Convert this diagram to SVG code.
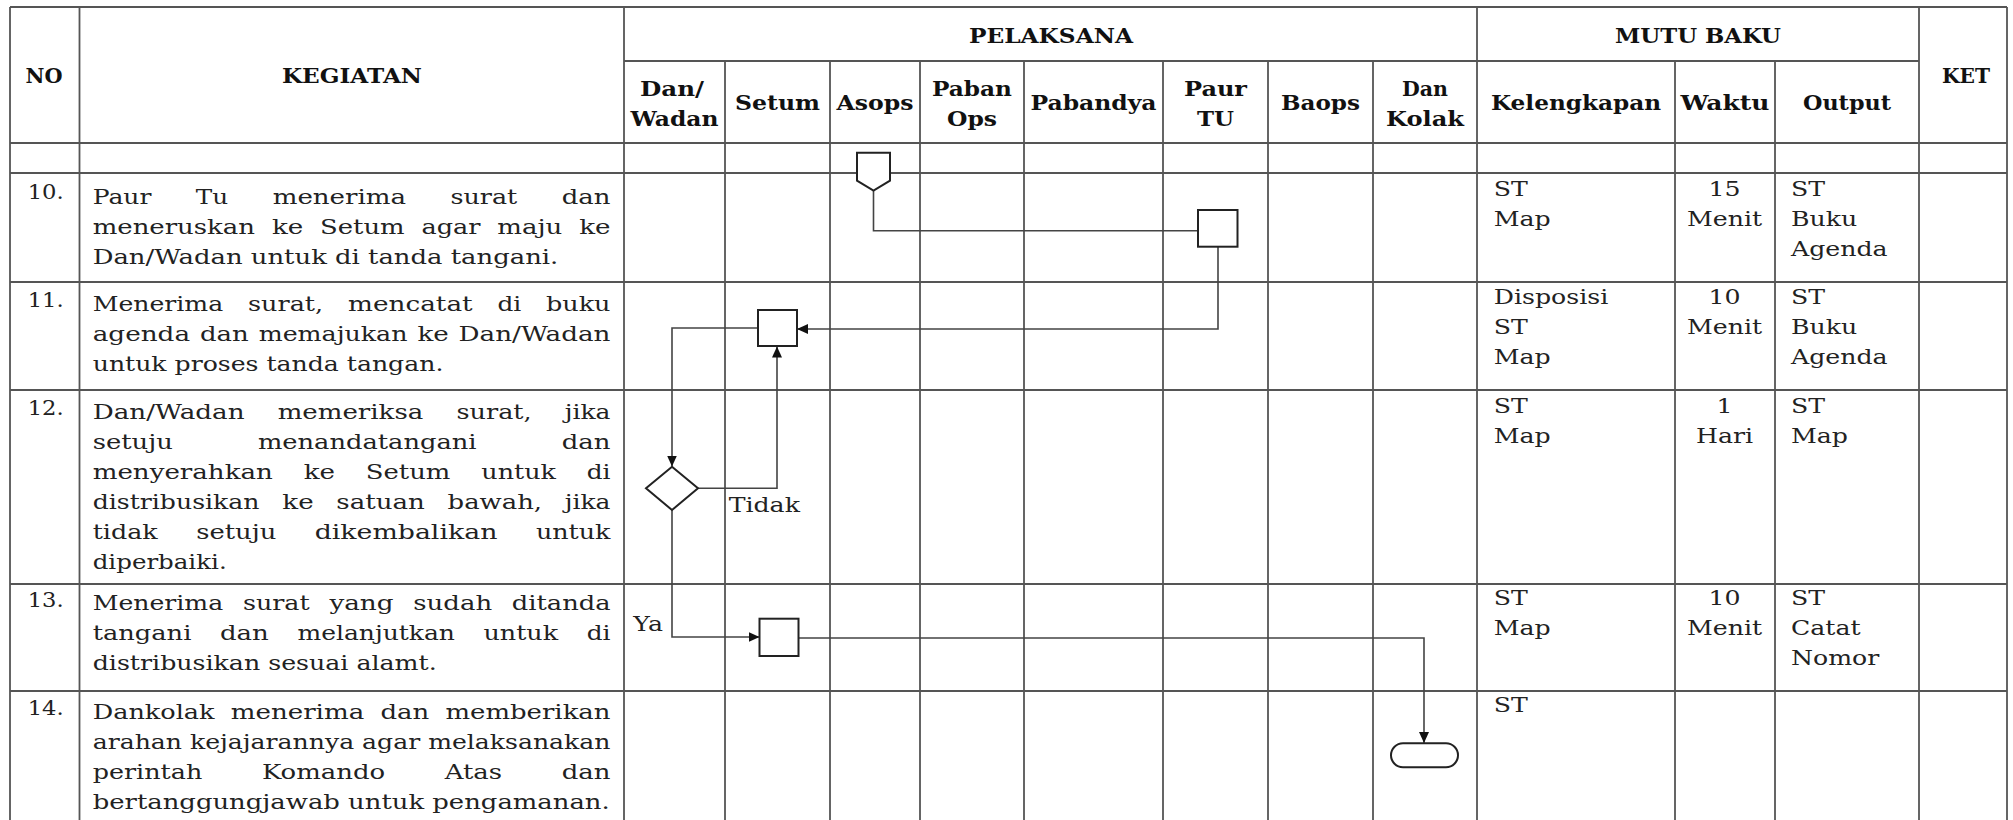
<svg xmlns="http://www.w3.org/2000/svg" width="2013" height="820" viewBox="0 0 2013 820">
<style>
.g{stroke:#555;stroke-width:1.8;fill:none}
.h{font-family:"DejaVu Serif",serif;font-weight:bold;font-size:20px;fill:#111;text-anchor:middle}
.b{font-family:"DejaVu Serif",serif;font-size:21px;fill:#222}
.m{text-anchor:middle}
.n{fill:#fff;stroke:#222;stroke-width:2}
.c{fill:none;stroke:#444;stroke-width:1.6}
</style>
<defs>
<marker id="arr" markerUnits="userSpaceOnUse" markerWidth="12" markerHeight="12" refX="11" refY="5" orient="auto">
<path d="M0,0 L11,5 L0,10 Z" fill="#111"/>
</marker>
</defs>
<rect width="2013" height="820" fill="#fff"/>
<g id="table" class="g">
<path d="M10,7V820M79.5,7V820M624,7V820M1477,7V820M1919,7V820M2007,7V820"/>
<path d="M725,61V820M830,61V820M920,61V820M1024,61V820M1163,61V820M1268,61V820M1373,61V820M1675,61V820M1775,61V820"/>
<path d="M10,7H2007M624,61H1919M10,143H2007M10,173H2007M10,282H2007M10,390H2007M10,584H2007M10,691H2007"/>
</g>
<g id="header">
<text class="h" x="44" y="83" textLength="37" lengthAdjust="spacingAndGlyphs">NO</text>
<text class="h" x="352" y="83" textLength="140" lengthAdjust="spacingAndGlyphs">KEGIATAN</text>
<text class="h" x="1051" y="43" textLength="164" lengthAdjust="spacingAndGlyphs">PELAKSANA</text>
<text class="h" x="1698" y="43" textLength="166" lengthAdjust="spacingAndGlyphs">MUTU BAKU</text>
<text class="h" x="1966" y="83" textLength="48" lengthAdjust="spacingAndGlyphs">KET</text>
<text class="h" x="672" y="96" textLength="64" lengthAdjust="spacingAndGlyphs">Dan/</text>
<text class="h" x="674.5" y="126" textLength="88" lengthAdjust="spacingAndGlyphs">Wadan</text>
<text class="h" x="777.5" y="110" textLength="85" lengthAdjust="spacingAndGlyphs">Setum</text>
<text class="h" x="875" y="110" textLength="77" lengthAdjust="spacingAndGlyphs">Asops</text>
<text class="h" x="972" y="96" textLength="80" lengthAdjust="spacingAndGlyphs">Paban</text>
<text class="h" x="972" y="126" textLength="50" lengthAdjust="spacingAndGlyphs">Ops</text>
<text class="h" x="1093.5" y="110" textLength="126" lengthAdjust="spacingAndGlyphs">Pabandya</text>
<text class="h" x="1215.5" y="96" textLength="63" lengthAdjust="spacingAndGlyphs">Paur</text>
<text class="h" x="1215.5" y="126" textLength="37" lengthAdjust="spacingAndGlyphs">TU</text>
<text class="h" x="1320.5" y="110" textLength="79" lengthAdjust="spacingAndGlyphs">Baops</text>
<text class="h" x="1425" y="96" textLength="46" lengthAdjust="spacingAndGlyphs">Dan</text>
<text class="h" x="1425" y="126" textLength="78" lengthAdjust="spacingAndGlyphs">Kolak</text>
<text class="h" x="1576" y="110" textLength="170" lengthAdjust="spacingAndGlyphs">Kelengkapan</text>
<text class="h" x="1725" y="110" textLength="89" lengthAdjust="spacingAndGlyphs">Waktu</text>
<text class="h" x="1847" y="110" textLength="88" lengthAdjust="spacingAndGlyphs">Output</text>
</g>
<g id="kegiatan">
<g id="row10">
<text class="b" x="27.7" y="199" textLength="36" lengthAdjust="spacingAndGlyphs">10.</text>
<text class="b" x="92.7" y="204" textLength="58.7" lengthAdjust="spacingAndGlyphs">Paur</text>
<text class="b" x="195.8" y="204" textLength="32.4" lengthAdjust="spacingAndGlyphs">Tu</text>
<text class="b" x="272.7" y="204" textLength="133.4" lengthAdjust="spacingAndGlyphs">menerima</text>
<text class="b" x="450.5" y="204" textLength="66.8" lengthAdjust="spacingAndGlyphs">surat</text>
<text class="b" x="561.7" y="204" textLength="48.8" lengthAdjust="spacingAndGlyphs">dan</text>
<text class="b" x="92.7" y="234" textLength="162.3" lengthAdjust="spacingAndGlyphs">meneruskan</text>
<text class="b" x="271.9" y="234" textLength="31.3" lengthAdjust="spacingAndGlyphs">ke</text>
<text class="b" x="320" y="234" textLength="84.6" lengthAdjust="spacingAndGlyphs">Setum</text>
<text class="b" x="421.5" y="234" textLength="59" lengthAdjust="spacingAndGlyphs">agar</text>
<text class="b" x="497.3" y="234" textLength="65" lengthAdjust="spacingAndGlyphs">maju</text>
<text class="b" x="579.2" y="234" textLength="31.3" lengthAdjust="spacingAndGlyphs">ke</text>
<text class="b" x="92.7" y="264" textLength="465.6" lengthAdjust="spacingAndGlyphs">Dan/Wadan untuk di tanda tangani.</text>
</g>
<g id="row11">
<text class="b" x="27.7" y="307" textLength="36" lengthAdjust="spacingAndGlyphs">11.</text>
<text class="b" x="92.7" y="311.3" textLength="130.5" lengthAdjust="spacingAndGlyphs">Menerima</text>
<text class="b" x="248" y="311.3" textLength="75.2" lengthAdjust="spacingAndGlyphs">surat,</text>
<text class="b" x="348.1" y="311.3" textLength="124.5" lengthAdjust="spacingAndGlyphs">mencatat</text>
<text class="b" x="497.4" y="311.3" textLength="23.8" lengthAdjust="spacingAndGlyphs">di</text>
<text class="b" x="546" y="311.3" textLength="64.5" lengthAdjust="spacingAndGlyphs">buku</text>
<text class="b" x="92.7" y="341.3" textLength="97.4" lengthAdjust="spacingAndGlyphs">agenda</text>
<text class="b" x="200" y="341.3" textLength="48.8" lengthAdjust="spacingAndGlyphs">dan</text>
<text class="b" x="258.7" y="341.3" textLength="148.8" lengthAdjust="spacingAndGlyphs">memajukan</text>
<text class="b" x="417.4" y="341.3" textLength="31.3" lengthAdjust="spacingAndGlyphs">ke</text>
<text class="b" x="458.6" y="341.3" textLength="151.9" lengthAdjust="spacingAndGlyphs">Dan/Wadan</text>
<text class="b" x="92.7" y="371.3" textLength="350.7" lengthAdjust="spacingAndGlyphs">untuk proses tanda tangan.</text>
</g>
<g id="row12">
<text class="b" x="27.7" y="415" textLength="36" lengthAdjust="spacingAndGlyphs">12.</text>
<text class="b" x="92.7" y="419" textLength="151.9" lengthAdjust="spacingAndGlyphs">Dan/Wadan</text>
<text class="b" x="277.7" y="419" textLength="145.6" lengthAdjust="spacingAndGlyphs">memeriksa</text>
<text class="b" x="456.5" y="419" textLength="75.2" lengthAdjust="spacingAndGlyphs">surat,</text>
<text class="b" x="564.8" y="419" textLength="45.7" lengthAdjust="spacingAndGlyphs">jika</text>
<text class="b" x="92.7" y="449" textLength="80.1" lengthAdjust="spacingAndGlyphs">setuju</text>
<text class="b" x="257.9" y="449" textLength="218.7" lengthAdjust="spacingAndGlyphs">menandatangani</text>
<text class="b" x="561.7" y="449" textLength="48.8" lengthAdjust="spacingAndGlyphs">dan</text>
<text class="b" x="92.7" y="479" textLength="180.1" lengthAdjust="spacingAndGlyphs">menyerahkan</text>
<text class="b" x="303.7" y="479" textLength="31.3" lengthAdjust="spacingAndGlyphs">ke</text>
<text class="b" x="365.8" y="479" textLength="84.6" lengthAdjust="spacingAndGlyphs">Setum</text>
<text class="b" x="481.3" y="479" textLength="74.6" lengthAdjust="spacingAndGlyphs">untuk</text>
<text class="b" x="586.7" y="479" textLength="23.8" lengthAdjust="spacingAndGlyphs">di</text>
<text class="b" x="92.7" y="509" textLength="166.8" lengthAdjust="spacingAndGlyphs">distribusikan</text>
<text class="b" x="282.3" y="509" textLength="31.3" lengthAdjust="spacingAndGlyphs">ke</text>
<text class="b" x="336.3" y="509" textLength="88.5" lengthAdjust="spacingAndGlyphs">satuan</text>
<text class="b" x="447.6" y="509" textLength="94.5" lengthAdjust="spacingAndGlyphs">bawah,</text>
<text class="b" x="564.8" y="509" textLength="45.7" lengthAdjust="spacingAndGlyphs">jika</text>
<text class="b" x="92.7" y="539" textLength="65" lengthAdjust="spacingAndGlyphs">tidak</text>
<text class="b" x="196.2" y="539" textLength="80.1" lengthAdjust="spacingAndGlyphs">setuju</text>
<text class="b" x="314.7" y="539" textLength="182.7" lengthAdjust="spacingAndGlyphs">dikembalikan</text>
<text class="b" x="535.9" y="539" textLength="74.6" lengthAdjust="spacingAndGlyphs">untuk</text>
<text class="b" x="92.7" y="569" textLength="134" lengthAdjust="spacingAndGlyphs">diperbaiki.</text>
</g>
<g id="row13">
<text class="b" x="27.7" y="607" textLength="36" lengthAdjust="spacingAndGlyphs">13.</text>
<text class="b" x="92.7" y="610" textLength="130.5" lengthAdjust="spacingAndGlyphs">Menerima</text>
<text class="b" x="242.9" y="610" textLength="66.8" lengthAdjust="spacingAndGlyphs">surat</text>
<text class="b" x="329.4" y="610" textLength="64.2" lengthAdjust="spacingAndGlyphs">yang</text>
<text class="b" x="413.3" y="610" textLength="78.8" lengthAdjust="spacingAndGlyphs">sudah</text>
<text class="b" x="511.8" y="610" textLength="98.7" lengthAdjust="spacingAndGlyphs">ditanda</text>
<text class="b" x="92.7" y="640" textLength="98.7" lengthAdjust="spacingAndGlyphs">tangani</text>
<text class="b" x="220" y="640" textLength="48.8" lengthAdjust="spacingAndGlyphs">dan</text>
<text class="b" x="297.5" y="640" textLength="157.4" lengthAdjust="spacingAndGlyphs">melanjutkan</text>
<text class="b" x="483.5" y="640" textLength="74.6" lengthAdjust="spacingAndGlyphs">untuk</text>
<text class="b" x="586.7" y="640" textLength="23.8" lengthAdjust="spacingAndGlyphs">di</text>
<text class="b" x="92.7" y="670" textLength="344" lengthAdjust="spacingAndGlyphs">distribusikan sesuai alamt.</text>
</g>
<g id="row14">
<text class="b" x="27.7" y="715" textLength="36" lengthAdjust="spacingAndGlyphs">14.</text>
<text class="b" x="92.7" y="719" textLength="121.9" lengthAdjust="spacingAndGlyphs">Dankolak</text>
<text class="b" x="230.8" y="719" textLength="133.4" lengthAdjust="spacingAndGlyphs">menerima</text>
<text class="b" x="380.5" y="719" textLength="48.8" lengthAdjust="spacingAndGlyphs">dan</text>
<text class="b" x="445.5" y="719" textLength="165" lengthAdjust="spacingAndGlyphs">memberikan</text>
<text class="b" x="92.7" y="749" textLength="517.8" lengthAdjust="spacingAndGlyphs">arahan kejajarannya agar melaksanakan</text>
<text class="b" x="92.7" y="779" textLength="109.6" lengthAdjust="spacingAndGlyphs">perintah</text>
<text class="b" x="261.9" y="779" textLength="123.2" lengthAdjust="spacingAndGlyphs">Komando</text>
<text class="b" x="444.7" y="779" textLength="57.4" lengthAdjust="spacingAndGlyphs">Atas</text>
<text class="b" x="561.7" y="779" textLength="48.8" lengthAdjust="spacingAndGlyphs">dan</text>
<text class="b" x="92.7" y="809" textLength="517" lengthAdjust="spacingAndGlyphs">bertanggungjawab untuk pengamanan.</text>
</g>
</g>
<g id="mutu" transform="scale(1.2 1)">
<text class="b" x="1244.8" y="196">ST</text>
<text class="b" x="1244.8" y="226">Map</text>
<text class="b m" x="1437.1" y="196">15</text>
<text class="b m" x="1437.1" y="226">Menit</text>
<text class="b" x="1492.5" y="196">ST</text>
<text class="b" x="1492.5" y="226">Buku</text>
<text class="b" x="1492.5" y="256">Agenda</text>
<text class="b" x="1244.8" y="304.5">Disposisi</text>
<text class="b" x="1244.8" y="334.5">ST</text>
<text class="b" x="1244.8" y="364.5">Map</text>
<text class="b m" x="1437.1" y="304.5">10</text>
<text class="b m" x="1437.1" y="334.5">Menit</text>
<text class="b" x="1492.5" y="304.5">ST</text>
<text class="b" x="1492.5" y="334.5">Buku</text>
<text class="b" x="1492.5" y="364.5">Agenda</text>
<text class="b" x="1244.8" y="413.5">ST</text>
<text class="b" x="1244.8" y="443.5">Map</text>
<text class="b m" x="1437.1" y="413.5">1</text>
<text class="b m" x="1437.1" y="443.5">Hari</text>
<text class="b" x="1492.5" y="413.5">ST</text>
<text class="b" x="1492.5" y="443.5">Map</text>
<text class="b" x="1244.8" y="605.5">ST</text>
<text class="b" x="1244.8" y="635.5">Map</text>
<text class="b m" x="1437.1" y="605.5">10</text>
<text class="b m" x="1437.1" y="635.5">Menit</text>
<text class="b" x="1492.5" y="605.5">ST</text>
<text class="b" x="1492.5" y="635.5">Catat</text>
<text class="b" x="1492.5" y="665.5">Nomor</text>
<text class="b" x="1244.8" y="712.5">ST</text>
</g>
<g id="labels" transform="scale(1.2 1)">
<text class="b" x="607.2" y="511.7">Tidak</text>
<text class="b" x="527.75" y="631">Ya</text>
</g>
<g id="connectors">
<path class="c" d="M873.5,190.7V230.7H1198"/>
<path class="c" d="M1218,246.7V329H797" marker-end="url(#arr)"/>
<path class="c" d="M758,328H672V466.5" marker-end="url(#arr)"/>
<path class="c" d="M698,488.3H777V346.5" marker-end="url(#arr)"/>
<path class="c" d="M672,510V637H759.5" marker-end="url(#arr)"/>
<path class="c" d="M798.5,638H1424V743" marker-end="url(#arr)"/>
</g>
<g id="n-offpage"><path class="n" d="M857,152.7H890V180.7L873.5,190.7L857,180.7Z"/></g>
<g id="n-paurtu"><rect class="n" x="1198" y="210" width="39.5" height="36.7"/></g>
<g id="n-setum1"><rect class="n" x="758" y="310" width="39" height="36"/></g>
<g id="n-decision"><path class="n" d="M672,466.7L698,488.3L672,510L646,488.3Z"/></g>
<g id="n-setum2"><rect class="n" x="759.5" y="618.7" width="39" height="37.3"/></g>
<g id="n-end"><rect class="n" x="1391" y="743.3" width="67" height="24" rx="12"/></g>
</svg>
